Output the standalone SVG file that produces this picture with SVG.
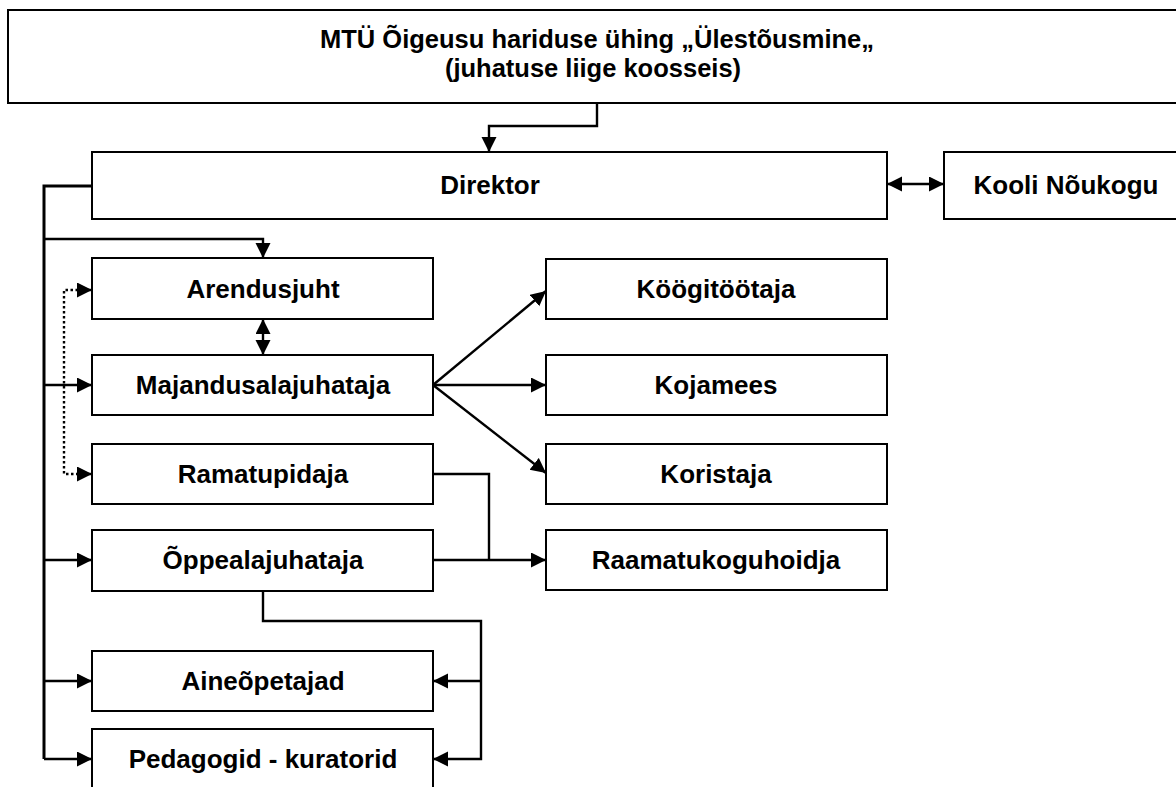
<svg xmlns="http://www.w3.org/2000/svg" width="1176" height="787" viewBox="0 0 1176 787">
<style>
.box{fill:#fff;stroke:#000;stroke-width:2}
.lbl{font-family:"Liberation Sans",Arial,sans-serif;font-weight:bold;font-size:26px;fill:#000;text-anchor:middle}
.top{font-size:25.5px}
.ln{fill:none;stroke:#000;stroke-width:2.4}
.bus{fill:none;stroke:#000;stroke-width:3}
.dot{fill:none;stroke:#000;stroke-width:2.4;stroke-dasharray:2.5 2.5}
</style>
<defs>
<marker id="ah" markerUnits="userSpaceOnUse" markerWidth="16" markerHeight="16" refX="15" refY="7.5" orient="auto-start-reverse">
<path d="M0,0 L15,7.5 L0,15 z" fill="#000"/>
</marker>
</defs>
<rect width="1176" height="787" fill="#fff"/>
<g id="connectors">
<path class="ln" d="M597,103 V126 H489 V152" marker-end="url(#ah)"/>
<path class="ln" d="M887,184 H944" marker-start="url(#ah)" marker-end="url(#ah)"/>
<path class="bus" d="M92,186 H44 V759"/>
<path class="ln" d="M44,239 H263 V258" marker-end="url(#ah)"/>
<path class="ln" d="M263,319 V355" marker-start="url(#ah)" marker-end="url(#ah)"/>
<path class="ln" d="M44,385 H92" marker-end="url(#ah)"/>
<path class="ln" d="M44,560 H92" marker-end="url(#ah)"/>
<path class="ln" d="M44,681 H92" marker-end="url(#ah)"/>
<path class="ln" d="M44,759 H92" marker-end="url(#ah)"/>
<path class="dot" d="M78,290 H64 V474 H78"/>
<path class="ln" d="M77,290 H92" marker-end="url(#ah)"/>
<path class="ln" d="M77,474 H92" marker-end="url(#ah)"/>
<path class="ln" d="M433,385 L546,291" marker-end="url(#ah)"/>
<path class="ln" d="M433,385 H546" marker-end="url(#ah)"/>
<path class="ln" d="M433,385 L546,473" marker-end="url(#ah)"/>
<path class="ln" d="M433,474 H489 V560"/>
<path class="ln" d="M433,560 H546" marker-end="url(#ah)"/>
<path class="ln" d="M263,591 V621 H481 V759 H433" marker-end="url(#ah)"/>
<path class="ln" d="M481,681 H433" marker-end="url(#ah)"/>
</g>
<g id="node-mtu">
<rect class="box" x="8" y="10" width="1182" height="93"/>
<text class="lbl top" x="597" y="48">MTÜ Õigeusu hariduse ühing „Ülestõusmine„</text>
<text class="lbl top" x="593" y="77">(juhatuse liige koosseis)</text>
</g>
<g id="node-direktor">
<rect class="box" x="92" y="152" width="795" height="67"/>
<text class="lbl" x="490" y="194">Direktor</text>
</g>
<g id="node-kooli">
<rect class="box" x="944" y="152" width="246" height="67"/>
<text class="lbl" x="1066" y="194">Kooli Nõukogu</text>
</g>
<g id="node-arendusjuht">
<rect class="box" x="92" y="258" width="341" height="61"/>
<text class="lbl" x="263" y="298">Arendusjuht</text>
</g>
<g id="node-majandus">
<rect class="box" x="92" y="355" width="341" height="60"/>
<text class="lbl" x="263" y="394">Majandusalajuhataja</text>
</g>
<g id="node-ramatupidaja">
<rect class="box" x="92" y="444" width="341" height="60"/>
<text class="lbl" x="263" y="483">Ramatupidaja</text>
</g>
<g id="node-oppeala">
<rect class="box" x="92" y="530" width="341" height="61"/>
<text class="lbl" x="263" y="569">Õppealajuhataja</text>
</g>
<g id="node-aine">
<rect class="box" x="92" y="651" width="341" height="60"/>
<text class="lbl" x="263" y="690">Aineõpetajad</text>
</g>
<g id="node-pedagogid">
<rect class="box" x="92" y="729" width="341" height="70"/>
<text class="lbl" x="263" y="768">Pedagogid - kuratorid</text>
</g>
<g id="node-kook">
<rect class="box" x="546" y="259" width="341" height="60"/>
<text class="lbl" x="716" y="298">Köögitöötaja</text>
</g>
<g id="node-kojamees">
<rect class="box" x="546" y="355" width="341" height="60"/>
<text class="lbl" x="716" y="394">Kojamees</text>
</g>
<g id="node-koristaja">
<rect class="box" x="546" y="444" width="341" height="60"/>
<text class="lbl" x="716" y="483">Koristaja</text>
</g>
<g id="node-raamatukogu">
<rect class="box" x="546" y="530" width="341" height="60"/>
<text class="lbl" x="716" y="569">Raamatukoguhoidja</text>
</g>
</svg>
